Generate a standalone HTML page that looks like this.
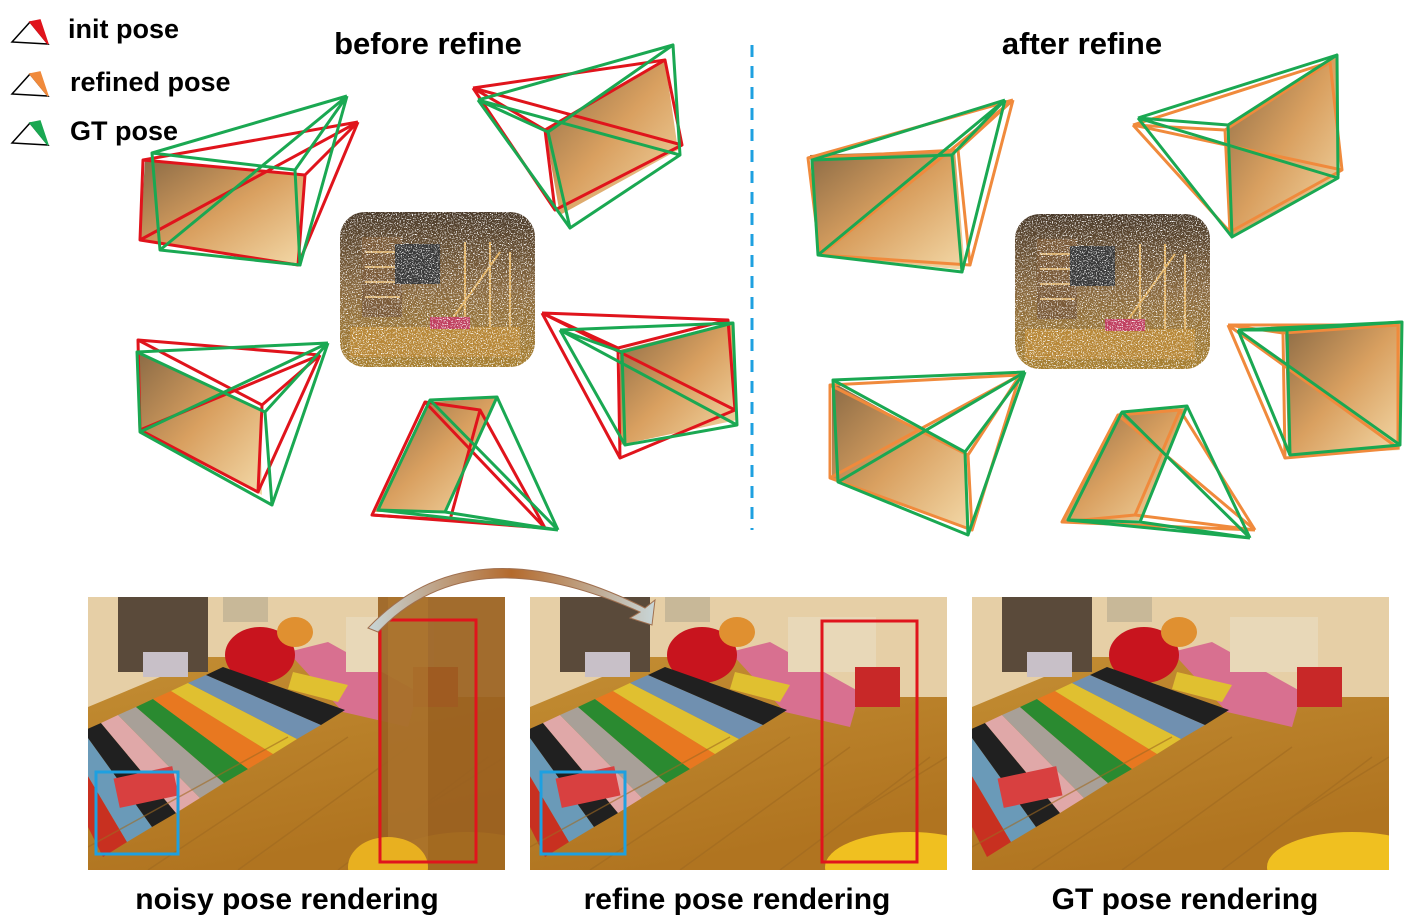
<!DOCTYPE html>
<html><head><meta charset="utf-8"><style>
body{margin:0;background:#fff;}
svg{display:block;font-family:"Liberation Sans",sans-serif;}
</style></head><body>
<svg width="1415" height="920" viewBox="0 0 1415 920" xmlns="http://www.w3.org/2000/svg">
<defs>
<linearGradient id="img" x1="0" y1="0" x2="1" y2="1">
<stop offset="0" stop-color="#8a6a45"/><stop offset="0.5" stop-color="#d9a060"/><stop offset="1" stop-color="#f3d9a8"/></linearGradient>
<linearGradient id="floor" x1="0" y1="0" x2="0.3" y2="1">
<stop offset="0" stop-color="#c89438"/><stop offset="1" stop-color="#b07420"/></linearGradient>
<linearGradient id="arr" x1="0" y1="0" x2="1" y2="0">
<stop offset="0" stop-color="#c8d6d8"/><stop offset="0.5" stop-color="#b46a2c"/><stop offset="1" stop-color="#c8d6d8"/></linearGradient>
<linearGradient id="pc" x1="0" y1="0" x2="0" y2="1">
<stop offset="0" stop-color="#4a3a2a"/><stop offset="0.5" stop-color="#8a6a40"/><stop offset="1" stop-color="#a88030"/></linearGradient>
<filter id="speck" x="0" y="0" width="1" height="1"><feTurbulence type="fractalNoise" baseFrequency="0.8" numOctaves="2" seed="5"/><feColorMatrix values="0 0 0 0 1  0 0 0 0 1  0 0 0 0 1  7 0 0 0 -3.9"/></filter>
<g id="room1">
<rect x="0" y="0" width="417" height="273" fill="url(#floor)"/>
<polygon points="0,0 417,0 417,100 330,100 250,60 120,60 0,110" fill="#e6cfa6"/>
<rect x="30" y="0" width="90" height="75" fill="#5a4a3a"/>
<rect x="55" y="55" width="45" height="25" fill="#c8c0c8"/>
<rect x="135" y="0" width="45" height="25" fill="#c8b898"/>
<polygon points="200,55 240,45 330,95 320,130 255,115" fill="#d87090"/>
<polygon points="205,75 260,88 250,105 200,92" fill="#e0c030"/>
<rect x="258" y="20" width="88" height="55" fill="#e8d8b8"/>
<rect x="325" y="70" width="45" height="40" fill="#c82828"/>
<ellipse cx="172" cy="58" rx="35" ry="28" fill="#c8141e"/>
<ellipse cx="207" cy="35" rx="18" ry="15" fill="#e09030"/>
<polygon points="-40,150 15,260 39,245 -22,142" fill="#c83020"/>
<polygon points="-22,142 39,245 64,230 -5,134" fill="#6a9ab8"/>
<polygon points="-5,134 64,230 88,216 13,126" fill="#202020"/>
<polygon points="13,126 88,216 112,201 30,118" fill="#e0a8a8"/>
<polygon points="30,118 112,201 136,186 48,110" fill="#a8a098"/>
<polygon points="48,110 136,186 160,172 65,102" fill="#2a8a30"/>
<polygon points="65,102 160,172 185,157 83,94" fill="#e87820"/>
<polygon points="83,94 185,157 209,142 100,86" fill="#e0c030"/>
<polygon points="100,86 209,142 233,128 118,78" fill="#7090b0"/>
<polygon points="118,78 233,128 257,113 135,70" fill="#202020"/>
<rect x="28" y="175" width="60" height="30" fill="#d84040" transform="rotate(-12 58 190)"/>
<path d="M0,250 L200,140 M60,273 L260,140 M150,273 L320,150 M250,273 L400,160 M320,220 L417,160" stroke="#a06a20" stroke-width="1.5" opacity="0.6"/>
<ellipse cx="380" cy="270" rx="85" ry="35" fill="#f0c020"/>
</g>
<g id="cloud">
<rect x="0" y="0" width="195" height="155" rx="25" fill="url(#pc)"/>
<rect x="22" y="25" width="40" height="80" fill="#7a5a38"/>
<path d="M25,40H60M25,55H60M25,70H60M25,85H60" stroke="#d8b070" stroke-width="2"/>
<rect x="55" y="32" width="45" height="40" fill="#3a3a3a"/>
<path d="M110,110L160,40M125,30V130M150,30V130M170,40V125" stroke="#e0b060" stroke-width="2"/>
<rect x="10" y="115" width="170" height="30" fill="#b88838"/>
<rect x="90" y="105" width="40" height="12" fill="#c04060"/>
<rect x="-2" y="-2" width="199" height="159" filter="url(#speck)"/>
</g>
</defs>

<!-- legend -->
<g stroke-width="1.5" fill="none">
<polygon points="12,42 30,22 48,44" stroke="#000"/><polygon points="30,22 48,44 40,20" fill="#e0141c" stroke="#e0141c"/>
<polygon points="12,94 30,74 48,96" stroke="#000"/><polygon points="30,74 48,96 40,72" fill="#f08a3c" stroke="#f08a3c"/>
<polygon points="12,143 30,123 48,145" stroke="#000"/><polygon points="30,123 48,145 40,121" fill="#1aa852" stroke="#1aa852"/>
</g>
<g font-weight="bold" font-size="27" fill="#000">
<text x="68" y="38">init pose</text>
<text x="70" y="91">refined pose</text>
<text x="70" y="140">GT pose</text>
<text x="428" y="54" font-size="31" text-anchor="middle">before refine</text>
<text x="1082" y="54" font-size="31" text-anchor="middle">after refine</text>
</g>
<line x1="752" y1="45" x2="752" y2="530" stroke="#1ea0e0" stroke-width="3" stroke-dasharray="12,9"/>

<!-- point clouds -->
<use href="#cloud" x="340" y="212"/>
<use href="#cloud" x="1015" y="214"/>

<!-- frustums before -->
<g stroke-width="3" fill="none" stroke-linejoin="round">
<polygon points="145,160 305,175 298,265 140,240" fill="url(#img)" stroke="none"/>
<g stroke="#e0141c"><polygon points="143,160 305,175 298,265 140,240"/><path d="M358,122L143,160M358,122L305,175M358,122L298,265M358,122L140,240"/></g>
<g stroke="#1aa852"><polygon points="152,153 295,170 300,265 160,250"/><path d="M347,96L152,153M347,96L295,170M347,96L300,265M347,96L160,250"/></g>
<polygon points="545,130 665,60 678,150 560,215" fill="url(#img)" stroke="none"/>
<g stroke="#e0141c"><polygon points="545,130 665,60 682,145 555,210"/><path d="M473,88L545,130M473,88L665,60M473,88L682,145M473,88L555,210"/></g>
<g stroke="#1aa852"><polygon points="548,132 673,45 680,155 570,228"/><path d="M478,100L548,132M478,100L673,45M478,100L680,155M478,100L570,228"/></g>
<polygon points="137,352 260,410 262,495 140,432" fill="url(#img)" stroke="none"/>
<g stroke="#e0141c"><polygon points="138,340 262,405 258,492 140,430"/><path d="M320,355L138,340M320,355L262,405M320,355L258,492M320,355L140,430"/></g>
<g stroke="#1aa852"><polygon points="137,352 265,412 272,505 140,432"/><path d="M328,343L137,352M328,343L265,412M328,343L272,505M328,343L140,432"/></g>
<polygon points="428,402 497,398 445,512 375,512" fill="url(#img)" stroke="none"/>
<g stroke="#e0141c"><polygon points="425,402 480,410 450,520 372,515"/><path d="M545,528L425,402M545,528L480,410M545,528L450,520M545,528L372,515"/></g>
<g stroke="#1aa852"><polygon points="430,400 497,397 445,512 378,510"/><path d="M558,530L430,400M558,530L497,397M558,530L445,512M558,530L378,510"/></g>
<polygon points="620,350 733,322 737,420 620,445" fill="url(#img)" stroke="none"/>
<g stroke="#e0141c"><polygon points="618,348 728,320 735,410 620,458"/><path d="M542,313L618,348M542,313L728,320M542,313L735,410M542,313L620,458"/></g>
<g stroke="#1aa852"><polygon points="622,352 733,323 737,425 625,445"/><path d="M560,330L622,352M560,330L733,323M560,330L737,425M560,330L625,445"/></g>
</g>

<!-- frustums after -->
<g stroke-width="3" fill="none" stroke-linejoin="round">
<polygon points="810,155 955,150 965,270 820,255" fill="url(#img)" stroke="none"/>
<g stroke="#f08a3c"><polygon points="808,158 958,150 970,265 820,255"/><path d="M1013,100L808,158M1013,100L958,150M1013,100L970,265M1013,100L820,255"/></g>
<g stroke="#1aa852"><polygon points="812,160 952,155 962,272 818,255"/><path d="M1005,100L812,160M1005,100L952,155M1005,100L962,272M1005,100L818,255"/></g>
<polygon points="1228,125 1337,55 1340,175 1232,237" fill="url(#img)" stroke="none"/>
<g stroke="#f08a3c"><polygon points="1225,130 1330,62 1342,170 1230,232"/><path d="M1133,125L1225,130M1133,125L1330,62M1133,125L1342,170M1133,125L1230,232"/></g>
<g stroke="#1aa852"><polygon points="1228,125 1337,55 1338,178 1232,237"/><path d="M1138,118L1228,125M1138,118L1337,55M1138,118L1338,178M1138,118L1232,237"/></g>
<polygon points="832,382 965,455 970,530 832,478" fill="url(#img)" stroke="none"/>
<g stroke="#f08a3c"><polygon points="830,385 968,455 972,530 830,478"/><path d="M1020,375L830,385M1020,375L968,455M1020,375L972,530M1020,375L830,478"/></g>
<g stroke="#1aa852"><polygon points="833,380 965,452 968,535 838,482"/><path d="M1025,372L833,380M1025,372L965,452M1025,372L968,535M1025,372L838,482"/></g>
<polygon points="1120,412 1187,408 1140,520 1062,522" fill="url(#img)" stroke="none"/>
<g stroke="#f08a3c"><polygon points="1118,415 1180,410 1135,515 1062,522"/><path d="M1255,530L1118,415M1255,530L1180,410M1255,530L1135,515M1255,530L1062,522"/></g>
<g stroke="#1aa852"><polygon points="1122,412 1187,406 1140,522 1068,520"/><path d="M1250,538L1122,412M1250,538L1187,406M1250,538L1140,522M1250,538L1068,520"/></g>
<polygon points="1285,330 1402,322 1400,450 1288,455" fill="url(#img)" stroke="none"/>
<g stroke="#f08a3c"><polygon points="1283,333 1398,325 1398,448 1285,458"/><path d="M1228,325L1283,333M1228,325L1398,325M1228,325L1398,448M1228,325L1285,458"/></g>
<g stroke="#1aa852"><polygon points="1287,330 1402,322 1400,445 1290,455"/><path d="M1238,330L1287,330M1238,330L1402,322M1238,330L1400,445M1238,330L1290,455"/></g>
</g>

<!-- bottom photos -->
<svg x="88" y="597" width="417" height="273"><use href="#room1"/>
<rect x="290" y="0" width="127" height="273" fill="#9a6020" opacity="0.9"/>
<rect x="300" y="0" width="40" height="273" fill="#b07a30" opacity="0.6"/>
<ellipse cx="300" cy="270" rx="40" ry="30" fill="#e8b020"/></svg>
<svg x="530" y="597" width="417" height="273"><use href="#room1"/></svg>
<svg x="972" y="597" width="417" height="273"><use href="#room1"/></svg>
<rect x="380" y="620" width="96" height="242" fill="none" stroke="#e0141c" stroke-width="3"/>
<rect x="96" y="772" width="82" height="82" fill="none" stroke="#1ea0e0" stroke-width="3"/>
<rect x="822" y="621" width="95" height="241" fill="none" stroke="#e0141c" stroke-width="3"/>
<rect x="541" y="772" width="84" height="82" fill="none" stroke="#1ea0e0" stroke-width="3"/>

<!-- arrow -->
<path d="M368,628 Q470,520 645,608 L655,600 L652,625 L630,618 L640,612 Q470,535 378,632 Z" fill="url(#arr)" stroke="#a07050" stroke-width="1"/>

<g font-weight="bold" font-size="30" fill="#000" text-anchor="middle">
<text x="287" y="909">noisy pose rendering</text>
<text x="737" y="909">refine pose rendering</text>
<text x="1185" y="909">GT pose rendering</text>
</g>
</svg>
</body></html>
